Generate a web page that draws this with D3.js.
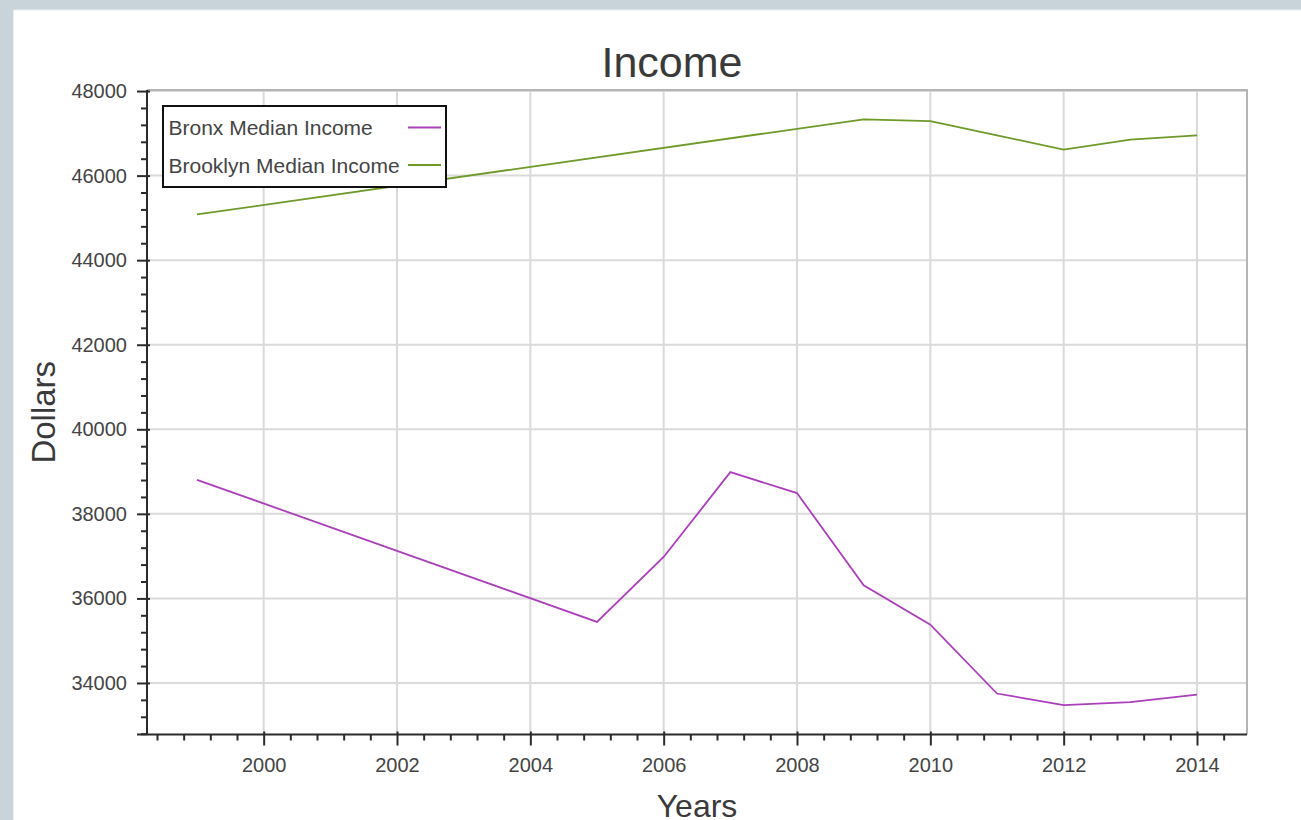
<!DOCTYPE html>
<html>
<head>
<meta charset="utf-8">
<script src="https://cdn.jsdelivr.net/npm/d3@7"></script>
<style>
  html, body { margin: 0; padding: 0; background: #c9d4da; }
  svg { display: block; }
  text { font-family: "Liberation Sans", Arial, Helvetica, sans-serif; }
</style>
</head>
<body>
<svg id="chart" width="1301" height="820"></svg>
<script>
// ---- data ----
const bronxYears = [1999, 2005, 2006, 2007, 2008, 2009, 2010, 2011, 2012, 2013, 2014];
const bronxIncome = [38805, 35443, 36979, 38986, 38491, 36308, 35380, 33750, 33474, 33545, 33726];
const brooklynYears = [1999, 2009, 2010, 2011, 2012, 2013, 2014];
const brooklynIncome = [45081, 47332, 47291, 46953, 46616, 46852, 46953];
const seriesNames = ["Bronx Median Income", "Brooklyn Median Income"];
const seriesColors = ["#ab3fbb", "#6f9a2a"];
const xTickValues = [2000, 2002, 2004, 2006, 2008, 2010, 2012, 2014];
const yTickValues = [34000, 36000, 38000, 40000, 42000, 44000, 46000, 48000];
const chartTitle = "Income";
const xLabel = "Years";
const yLabel = "Dollars";

const svg = d3.select("#chart");
// white panel
svg.append("rect").attr("x", 13.5).attr("y", 10).attr("width", 1300).attr("height", 820)
  .attr("fill", "#ffffff").attr("stroke", "#e9eef1").attr("stroke-width", 1);

const plot = { left: 147, right: 1247, top: 90, bottom: 734.5 };

const series = [
  { name: seriesNames[0], color: seriesColors[0], pts: bronxYears.map((y, i) => ({ x: y, v: bronxIncome[i] })) },
  { name: seriesNames[1], color: seriesColors[1], pts: brooklynYears.map((y, i) => ({ x: y, v: brooklynIncome[i] })) }
];
const allPts = series.flatMap(s => s.pts);
const xe = d3.extent(allPts, d => d.x), ye = d3.extent(allPts, d => d.v);
const xp = (xe[1] - xe[0]) * 0.05, yp = (ye[1] - ye[0]) * 0.05;

const x = d3.scaleLinear().domain([xe[0] - xp, xe[1] + xp]).range([plot.left, plot.right]);
const y = d3.scaleLinear().domain([ye[0] - yp, ye[1] + yp]).range([plot.bottom, plot.top]);

// grid
const g = svg.append("g");
g.selectAll(".vg").data(xTickValues).join("line")
  .attr("x1", d => x(d)).attr("x2", d => x(d)).attr("y1", plot.top).attr("y2", plot.bottom)
  .attr("stroke", "#dadada").attr("stroke-width", 2);
g.selectAll(".hg").data(yTickValues).join("line")
  .attr("x1", plot.left).attr("x2", plot.right).attr("y1", d => y(d)).attr("y2", d => y(d))
  .attr("stroke", "#dadada").attr("stroke-width", 2);

// frame top/right outline
svg.append("path")
  .attr("d", `M${plot.left},${plot.top}H${plot.right}V${plot.bottom}`)
  .attr("fill", "none").attr("stroke", "#b5b5b5").attr("stroke-width", 2);

// lines
const line = d3.line().x(d => x(d.x)).y(d => y(d.v));
series.forEach(s => {
  svg.append("path").datum(s.pts).attr("d", line)
    .attr("fill", "none").attr("stroke", s.color).attr("stroke-width", 1.8)
    .attr("stroke-linejoin", "miter");
});

// minor tick values
const xd = x.domain(), yd = y.domain();
const xMinor = d3.range(Math.ceil(xd[0] / 0.4) * 0.4, xd[1], 0.4)
  .filter(v => Math.abs(v / 2 - Math.round(v / 2)) > 1e-6);
const yMinor = d3.range(Math.ceil(yd[0] / 400) * 400, yd[1], 400).filter(v => v % 2000 !== 0);

const axisColor = "#2b2b2b";
// x axis
const xAxis = svg.append("g").attr("transform", `translate(0,${plot.bottom})`)
  .call(d3.axisBottom(x).tickValues(xTickValues).tickFormat(d3.format("d")).tickSizeInner(11).tickSizeOuter(0).tickPadding(12));
xAxis.select(".domain").attr("stroke", axisColor).attr("stroke-width", 2)
  .attr("d", `M${plot.left - 10},0H${plot.right}`);
xAxis.selectAll(".tick line").attr("stroke", axisColor).attr("stroke-width", 2).attr("y1", -3);
xAxis.selectAll(".tick text").attr("font-size", 20).attr("fill", "#444").attr("font-family", "Liberation Sans, Arial, sans-serif");
const xMin = svg.append("g").attr("transform", `translate(0,${plot.bottom})`)
  .call(d3.axisBottom(x).tickValues(xMinor).tickFormat("").tickSizeInner(6).tickSizeOuter(0));
xMin.select(".domain").remove();
xMin.selectAll(".tick line").attr("stroke", axisColor).attr("stroke-width", 2);

// y axis
const yAxis = svg.append("g").attr("transform", `translate(${plot.left},0)`)
  .call(d3.axisLeft(y).tickValues(yTickValues).tickFormat(d3.format("d")).tickSizeInner(10).tickSizeOuter(0).tickPadding(10));
yAxis.select(".domain").attr("stroke", axisColor).attr("stroke-width", 2)
  .attr("d", `M0,${plot.top}V${plot.bottom}`);
yAxis.selectAll(".tick line").attr("stroke", axisColor).attr("stroke-width", 2).attr("x1", 3);
yAxis.selectAll(".tick text").attr("font-size", 20).attr("fill", "#444").attr("font-family", "Liberation Sans, Arial, sans-serif");
const yMin = svg.append("g").attr("transform", `translate(${plot.left},0)`)
  .call(d3.axisLeft(y).tickValues(yMinor).tickFormat("").tickSizeInner(6).tickSizeOuter(0));
yMin.select(".domain").remove();
yMin.selectAll(".tick line").attr("stroke", axisColor).attr("stroke-width", 2);

// title & labels
svg.append("text").attr("x", 672).attr("y", 77).attr("text-anchor", "middle")
  .attr("font-size", 43).attr("fill", "#3a3a3a").text(chartTitle);
svg.append("text").attr("x", (plot.left + plot.right) / 2).attr("y", 817).attr("text-anchor", "middle")
  .attr("font-size", 32).attr("fill", "#3a3a3a").text(xLabel);
svg.append("text").attr("transform", `translate(55,${(plot.top + plot.bottom) / 2}) rotate(-90)`)
  .attr("text-anchor", "middle").attr("font-size", 33).attr("fill", "#3a3a3a").text(yLabel);

// legend
const lg = svg.append("g");
lg.append("rect").attr("x", 163).attr("y", 106).attr("width", 283).attr("height", 81)
  .attr("fill", "#fff").attr("stroke", "#111").attr("stroke-width", 2);
series.forEach((s, i) => {
  const cy = 127.5 + i * 37.5;
  lg.append("text").attr("x", 168.5).attr("y", cy + 7.5).attr("font-size", 21).attr("fill", "#444").text(s.name);
  lg.append("line").attr("x1", 408).attr("x2", 441).attr("y1", cy).attr("y2", cy)
    .attr("stroke", s.color).attr("stroke-width", 2);
});
</script>
</body>
</html>
